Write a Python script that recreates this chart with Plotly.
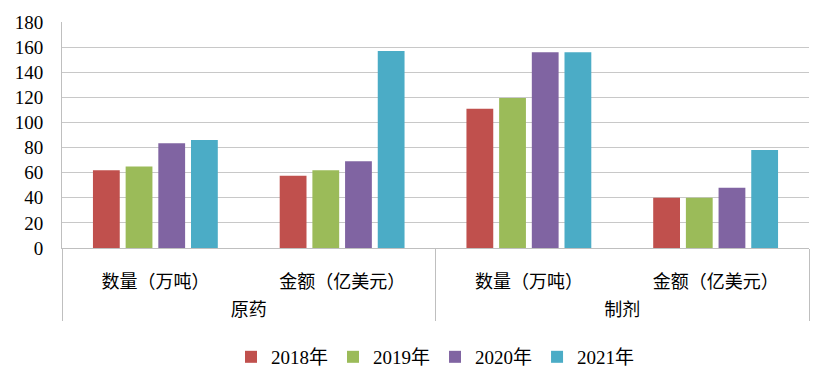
import plotly.graph_objects as go

groups = ["原药", "原药", "制剂", "制剂"]
measures = ["数量（万吨）", "金额（亿美元）", "数量（万吨）", "金额（亿美元）"]
years = ["2018年", "2019年", "2020年", "2021年"]
values = {
    "2018年": [62, 57.5, 111, 40],
    "2019年": [65, 62, 119.5, 40],
    "2020年": [83.5, 69, 156, 48],
    "2021年": [86, 157, 156, 78],
}
colors = ["#C0504D", "#9BBB59", "#8064A2", "#4BACC6"]

font_family = "Liberation Serif, Noto Sans CJK SC"

group_labels = ["<br>" + g for g in groups]

fig = go.Figure()
for y, c in zip(years, colors):
    fig.add_trace(go.Bar(x=[group_labels, measures], y=values[y], name=y,
                         marker=dict(color=c, line=dict(width=0))))

fig.update_layout(
    width=831, height=388,
    margin=dict(l=62, r=22, t=22, b=140, autoexpand=False),
    barmode="group", bargap=0.3, bargroupgap=0.18,
    plot_bgcolor="white", paper_bgcolor="white",
    font=dict(family=font_family, size=18, color="black"),
    showlegend=True,
    legend=dict(orientation="h", x=0.5, xanchor="center", yref="container",
                y=0.08, yanchor="middle", bgcolor="rgba(0,0,0,0)",
                font=dict(size=19), itemwidth=30, traceorder="normal"),
    xaxis=dict(type="multicategory", showline=True, linecolor="#BFBFBF", linewidth=1,
               showdividers=True, dividercolor="#BFBFBF", dividerwidth=1,
               tickfont=dict(size=18), ticks="", automargin=False,
               ticklabelstandoff=17),
    yaxis=dict(range=[0, 180], dtick=20, showgrid=True, gridcolor="#C8C8C8",
               gridwidth=1, showline=True, linecolor="#BFBFBF",
               linewidth=1, zeroline=False, ticks="", tickfont=dict(size=19),
               automargin=False, ticklabelstandoff=14),
)
fig.write_html("out.html", config={"displayModeBar": False},
               post_script="document.body.style.margin='0';document.body.style.padding='0';")
